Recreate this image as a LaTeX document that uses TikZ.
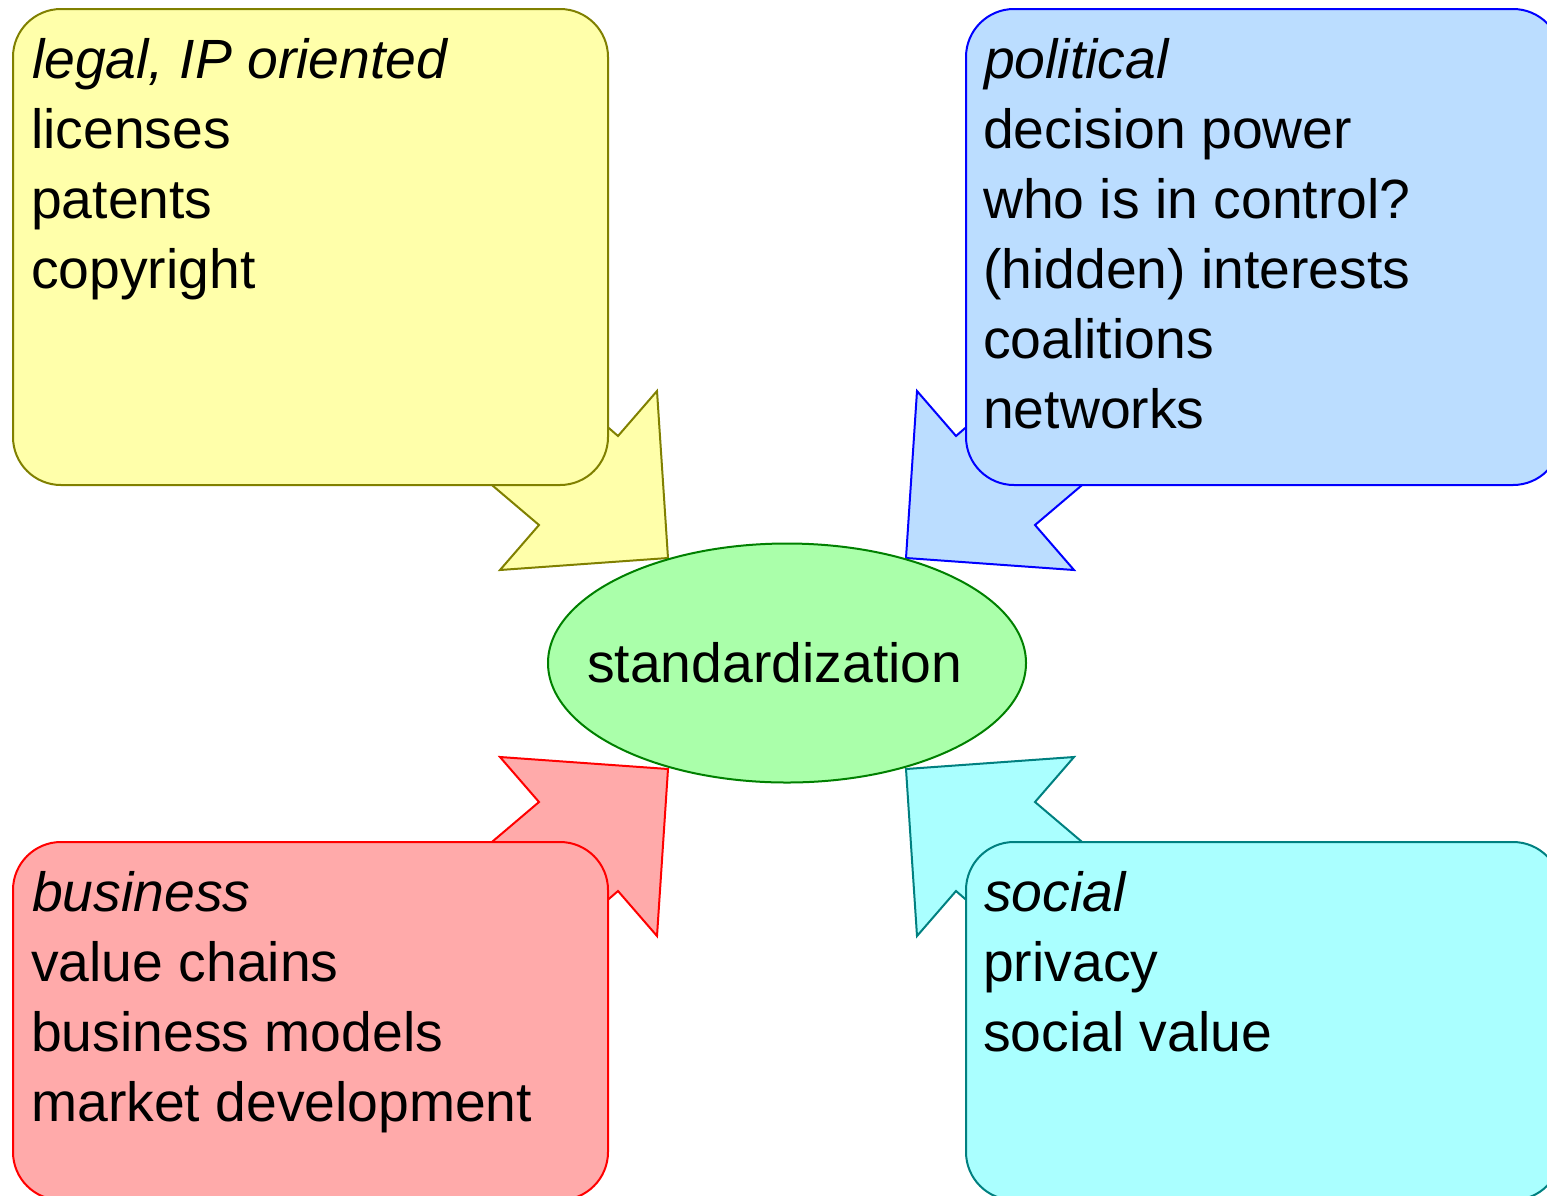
\documentclass[tikz,border=0pt]{standalone}
\usepackage{fontspec}
\setmainfont{Liberation Sans}
\usetikzlibrary{shapes.geometric}
\definecolor{yfill}{RGB}{255,255,170}
\definecolor{ydraw}{RGB}{128,128,0}
\definecolor{bfill}{RGB}{187,221,255}
\definecolor{bdraw}{RGB}{0,0,255}
\definecolor{rfill}{RGB}{255,170,170}
\definecolor{rdraw}{RGB}{255,0,0}
\definecolor{cfill}{RGB}{170,255,255}
\definecolor{cdraw}{RGB}{0,128,128}
\definecolor{gfill}{RGB}{170,255,170}
\definecolor{gdraw}{RGB}{0,128,0}
\begin{document}
\begin{tikzpicture}[x=1pt,y=-1pt,
  shp/.style={line width=2pt, line join=miter},
  boxshape/.style={line width=2pt, rounded corners=48pt},
  txt/.style={anchor=base west, inner sep=0pt, font=\fontsize{55.3}{70}\selectfont},
]
\useasboundingbox (0,0) rectangle (1547,1195);
\clip (0,0) rectangle (1547,1195);
% arrows
\draw[shp, fill=yfill, draw=ydraw] (657,391) -- (618,436) -- (450,290) -- (380,390) -- (539,525) -- (500,570) -- (668,558) -- cycle;
\draw[shp, fill=bfill, draw=bdraw] (917,391) -- (956,436) -- (1124,290) -- (1194,390) -- (1035,525) -- (1074,570) -- (906,558) -- cycle;
\draw[shp, fill=rfill, draw=rdraw] (657,936) -- (618,891) -- (450,1037) -- (380,937) -- (539,802) -- (500,757) -- (668,769) -- cycle;
\draw[shp, fill=cfill, draw=cdraw] (917,936) -- (956,891) -- (1124,1037) -- (1194,937) -- (1035,802) -- (1074,757) -- (906,769) -- cycle;
% boxes
\draw[boxshape, fill=yfill, draw=ydraw] (13,9) rectangle (608,485);
\draw[boxshape, fill=bfill, draw=bdraw] (966,9) rectangle (1561,485);
\draw[boxshape, fill=rfill, draw=rdraw] (13,842) rectangle (608,1200);
\draw[boxshape, fill=cfill, draw=cdraw] (966,842) rectangle (1561,1200);
% ellipse
\node[ellipse, draw=gdraw, fill=gfill, line width=2pt, minimum width=478pt, minimum height=239pt, inner sep=0pt] (std) at (787,663) {};
\node[txt] (stdtxt) at (587,682) {standardization};
% legal
\node[txt] (legh) at (32,78) {\itshape legal, IP oriented};
\foreach \t [count=\i from 1] in {licenses,patents,copyright}
  \node[txt] (leg\i) at (31,78+70*\i) {\t};
% political
\node[txt] (polh) at (984,78) {\itshape political};
\foreach \t [count=\i from 1] in {decision power,who is in control?,(hidden) interests,coalitions,networks}
  \node[txt] (pol\i) at (983,78+70*\i) {\t};
% business
\node[txt] (bush) at (32,911) {\itshape business};
\foreach \t [count=\i from 1] in {value chains,business models,market development}
  \node[txt] (bus\i) at (31,911+70*\i) {\t};
% social
\node[txt] (soch) at (984,911) {\itshape social};
\foreach \t [count=\i from 1] in {privacy,social value}
  \node[txt] (soc\i) at (983,911+70*\i) {\t};
\end{tikzpicture}
\end{document}
